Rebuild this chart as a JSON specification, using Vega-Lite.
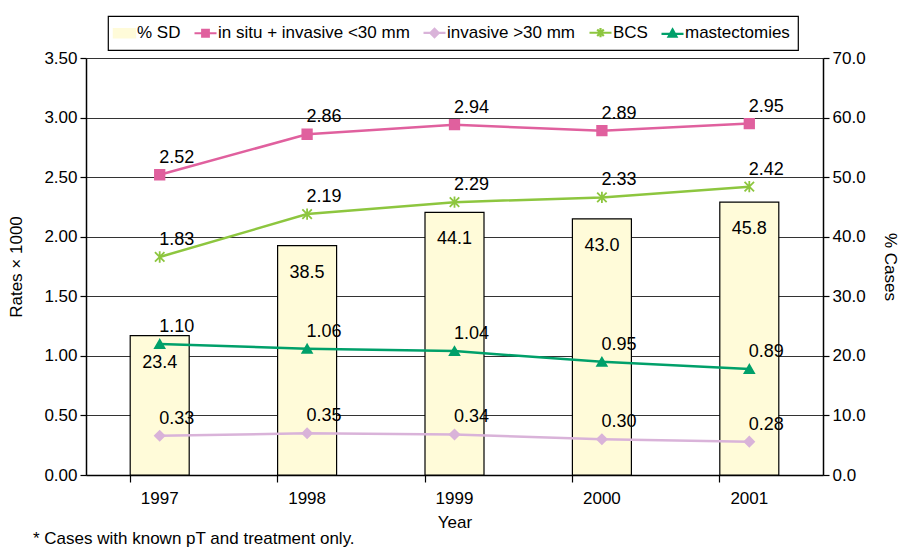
{
  "$schema": "https://vega.github.io/schema/vega-lite/v6.json",
  "width": 737,
  "height": 417,
  "autosize": "none",
  "padding": {"left": 86, "top": 58, "right": 78, "bottom": 73},
  "background": "white",
  "config": {
    "font": "Liberation Sans",
    "view": {"stroke": null},
    "axis": {"labelFont": "Liberation Sans", "titleFont": "Liberation Sans", "labelFontSize": 17, "titleFontSize": 17, "titleFontWeight": "normal", "labelColor": "black", "titleColor": "black", "domainColor": "black", "tickColor": "black", "domainWidth": 1.5, "tickWidth": 1.2},
    "legend": {"labelFont": "Liberation Sans", "labelFontSize": 17, "labelColor": "black", "labelLimit": 400}
  },
  "title": {"text": "* Cases with known pT and treatment only.", "orient": "bottom", "anchor": "start", "frame": "group", "fontSize": 17, "fontWeight": "normal", "font": "Liberation Sans", "color": "black", "dx": -53, "offset": 1},
  "datasets": {
    "bars": [
      {"year": "1997", "pct": 23.4},
      {"year": "1998", "pct": 38.5},
      {"year": "1999", "pct": 44.1},
      {"year": "2000", "pct": 43.0},
      {"year": "2001", "pct": 45.8}
    ],
    "lines": [
      {"year": "1997", "series": "in situ + invasive <30 mm", "value": 2.52},
      {"year": "1998", "series": "in situ + invasive <30 mm", "value": 2.86},
      {"year": "1999", "series": "in situ + invasive <30 mm", "value": 2.94},
      {"year": "2000", "series": "in situ + invasive <30 mm", "value": 2.89},
      {"year": "2001", "series": "in situ + invasive <30 mm", "value": 2.95},
      {"year": "1997", "series": "invasive >30 mm", "value": 0.33},
      {"year": "1998", "series": "invasive >30 mm", "value": 0.35},
      {"year": "1999", "series": "invasive >30 mm", "value": 0.34},
      {"year": "2000", "series": "invasive >30 mm", "value": 0.30},
      {"year": "2001", "series": "invasive >30 mm", "value": 0.28},
      {"year": "1997", "series": "BCS", "value": 1.83},
      {"year": "1998", "series": "BCS", "value": 2.19},
      {"year": "1999", "series": "BCS", "value": 2.29},
      {"year": "2000", "series": "BCS", "value": 2.33},
      {"year": "2001", "series": "BCS", "value": 2.42},
      {"year": "1997", "series": "mastectomies", "value": 1.10},
      {"year": "1998", "series": "mastectomies", "value": 1.06},
      {"year": "1999", "series": "mastectomies", "value": 1.04},
      {"year": "2000", "series": "mastectomies", "value": 0.95},
      {"year": "2001", "series": "mastectomies", "value": 0.89}
    ]
  },
  "encoding": {
    "x": {"field": "year", "type": "nominal", "scale": {"paddingInner": 0.6, "paddingOuter": 0.3},
      "axis": {"title": "Year", "labelAngle": 0, "bandPosition": 0, "tickSize": 7, "labelPadding": 8, "titlePadding": 8, "grid": false}}
  },
  "layer": [
    {
      "layer": [
        {
          "data": {"name": "bars"},
          "mark": {"type": "bar", "stroke": "black", "strokeWidth": 1.2, "width": 59},
          "encoding": {
            "y": {"field": "pct", "type": "quantitative", "scale": {"domain": [0, 70], "nice": false},
              "axis": {"orient": "right", "title": "% Cases", "format": ".1f", "values": [0,10,20,30,40,50,60,70], "grid": false, "tickSize": 6, "labelPadding": 3, "titlePadding": 15}},
            "color": {"datum": "% SD", "type": "nominal",
              "scale": {"domain": ["% SD", "in situ + invasive <30 mm", "invasive >30 mm", "BCS", "mastectomies"], "range": ["#FFFBD9", "#E0609E", "#D9B3D9", "#8DC63F", "#00A06A"]},
              "legend": {
                "orient": "none", "legendX": 22, "legendY": -42, "direction": "horizontal", "title": null,
                "strokeColor": "black", "padding": 8, "symbolSize": 484, "labelOffset": 4, "columnPadding": 9, "labelLimit": 400,
                "encode": {
                  "legend": {"update": {"strokeWidth": {"value": 1.2}}},
                  "symbols": {"update": {
                    "shape": {"signal": "datum.value === '% SD' ? 'M-1,-0.4H1V0.4H-1Z' : datum.value === 'in situ + invasive <30 mm' ? 'M-1,0H1M-0.3,-0.3H0.3V0.3H-0.3Z' : datum.value === 'invasive >30 mm' ? 'M-1,0H1M0,-0.38L0.38,0L0,0.38L-0.38,0Z' : datum.value === 'BCS' ? 'M-1,0H1M-0.3,-0.3L0.3,0.3M-0.3,0.3L0.3,-0.3M0,-0.42V0.42' : 'M-1,0.05H1M0,-0.35L0.36,0.3H-0.36Z'"},
                    "fill": {"signal": "datum.value === '% SD' ? '#FFFBD9' : datum.value === 'in situ + invasive <30 mm' ? '#E0609E' : datum.value === 'invasive >30 mm' ? '#D9B3D9' : datum.value === 'BCS' ? '#8DC63F' : '#00A06A'"},
                    "stroke": {"signal": "datum.value === '% SD' ? '#000000' : datum.value === 'in situ + invasive <30 mm' ? '#E0609E' : datum.value === 'invasive >30 mm' ? '#D9B3D9' : datum.value === 'BCS' ? '#8DC63F' : '#00A06A'"},
                    "strokeWidth": {"signal": "datum.value === '% SD' ? 1.5 : 2.2"},
                    "opacity": {"value": 1},
                    "strokeOpacity": {"value": 1},
                    "fillOpacity": {"value": 1}
                  }}
                }
              }}
          }
        },
        {
          "data": {"name": "bars"},
          "mark": {"type": "text", "fontSize": 18, "dy": 27, "baseline": "middle", "color": "black", "font": "Liberation Sans"},
          "encoding": {
            "y": {"field": "pct", "type": "quantitative"},
            "text": {"field": "pct", "type": "quantitative", "format": ".1f"}
          }
        }
      ]
    },
    {
      "data": {"name": "lines"},
      "layer": [
        {
          "mark": {"type": "line", "strokeWidth": 2.5},
          "encoding": {
            "y": {"field": "value", "type": "quantitative", "scale": {"domain": [0, 3.5], "nice": false},
              "axis": {"orient": "left", "title": "Rates \u00d7 1000", "format": ".2f", "values": [0,0.5,1,1.5,2,2.5,3,3.5], "grid": true, "gridColor": "#333333", "gridWidth": 1.2, "tickSize": 6, "labelPadding": 3, "titlePadding": 18}},
            "color": {"field": "series", "type": "nominal",
              "legend": {
                "orient": "none", "legendX": 22, "legendY": -42, "direction": "horizontal", "title": null,
                "strokeColor": "black", "padding": 8, "symbolSize": 484, "labelOffset": 4, "columnPadding": 9, "labelLimit": 400,
                "encode": {
                  "legend": {"update": {"strokeWidth": {"value": 1.2}}},
                  "symbols": {"update": {
                    "shape": {"signal": "datum.value === '% SD' ? 'M-1,-0.4H1V0.4H-1Z' : datum.value === 'in situ + invasive <30 mm' ? 'M-1,0H1M-0.3,-0.3H0.3V0.3H-0.3Z' : datum.value === 'invasive >30 mm' ? 'M-1,0H1M0,-0.38L0.38,0L0,0.38L-0.38,0Z' : datum.value === 'BCS' ? 'M-1,0H1M-0.3,-0.3L0.3,0.3M-0.3,0.3L0.3,-0.3M0,-0.42V0.42' : 'M-1,0.05H1M0,-0.35L0.36,0.3H-0.36Z'"},
                    "fill": {"signal": "datum.value === '% SD' ? '#FFFBD9' : datum.value === 'in situ + invasive <30 mm' ? '#E0609E' : datum.value === 'invasive >30 mm' ? '#D9B3D9' : datum.value === 'BCS' ? '#8DC63F' : '#00A06A'"},
                    "stroke": {"signal": "datum.value === '% SD' ? '#000000' : datum.value === 'in situ + invasive <30 mm' ? '#E0609E' : datum.value === 'invasive >30 mm' ? '#D9B3D9' : datum.value === 'BCS' ? '#8DC63F' : '#00A06A'"},
                    "strokeWidth": {"signal": "datum.value === '% SD' ? 1.5 : 2.2"},
                    "opacity": {"value": 1},
                    "strokeOpacity": {"value": 1},
                    "fillOpacity": {"value": 1}
                  }}
                }
              }}
          }
        },
        {
          "mark": {"type": "point", "filled": true, "size": 90, "strokeWidth": 1.8, "opacity": 1},
          "encoding": {
            "y": {"field": "value", "type": "quantitative"},
            "color": {"field": "series", "type": "nominal"},
            "stroke": {"field": "series", "type": "nominal", "legend": null,
              "scale": {"domain": ["in situ + invasive <30 mm", "invasive >30 mm", "BCS", "mastectomies"], "range": ["#E0609E", "#D9B3D9", "#8DC63F", "#00A06A"]}},
            "shape": {"field": "series", "type": "nominal", "legend": null,
              "scale": {"domain": ["in situ + invasive <30 mm", "invasive >30 mm", "BCS", "mastectomies"], "range": ["square", "diamond", "M-1,-1L1,1M-1,1L1,-1M0,-1.2V1.2", "triangle-up"]}}
          }
        },
        {
          "mark": {"type": "text", "fontSize": 18, "dx": 17, "dy": -17, "baseline": "middle", "align": "center", "color": "black", "font": "Liberation Sans"},
          "encoding": {
            "y": {"field": "value", "type": "quantitative"},
            "text": {"field": "value", "type": "quantitative", "format": ".2f"}
          }
        }
      ]
    }
  ],
  "resolve": {"scale": {"y": "independent"}}
}
